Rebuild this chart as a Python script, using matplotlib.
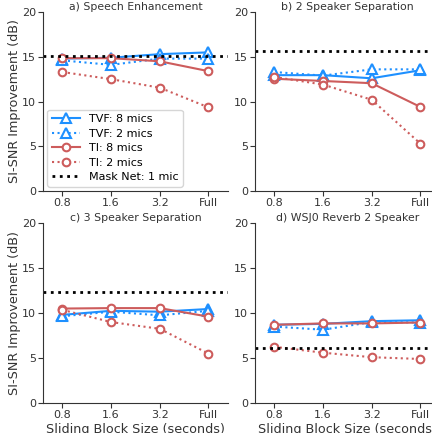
import matplotlib
matplotlib.use("Agg")
import matplotlib.pyplot as plt
import numpy as np

# block sizes on x axis
block_labels = ["0.8", "1.6", "3.2", "Full"]

titles = ["a) Speech Enhancement", "b) 2 Speaker Separation",
          "c) 3 Speaker Separation", "d) WSJ0 Reverb 2 Speaker"]

# SI-SNR improvement (dB), one list per panel
tvf_8 = [[14.8, 14.9, 15.3, 15.5],
         [12.95, 12.95, 12.6, 13.5],
         [9.8, 10.25, 10.15, 10.45],
         [8.7, 8.8, 9.1, 9.2]]
tvf_2 = [[14.6, 14.1, 14.8, 14.8],
         [13.3, 12.9, 13.6, 13.6],
         [9.65, 10.15, 9.75, 10.25],
         [8.5, 8.15, 9.0, 8.95]]
ti_8 = [[14.85, 14.85, 14.5, 13.4],
        [12.55, 12.3, 12.05, 9.4],
        [10.5, 10.55, 10.55, 9.6],
        [8.7, 8.85, 8.85, 8.95]]
ti_2 = [[13.3, 12.5, 11.55, 9.35],
        [12.75, 11.9, 10.2, 5.3],
        [10.35, 9.0, 8.25, 5.5],
        [6.25, 5.6, 5.1, 4.9]]
mask_net = [15.1, 15.6, 12.35, 6.1]

blue = "#1e90ff"
red = "#cd5c5c"
grey = "#333333"

fig = plt.figure(figsize=(4.32, 4.33), dpi=100)
# axes boxes in figure fractions (right column runs past the edge like the original)
boxes = [[0.0995, 0.559, 0.428, 0.413],
         [0.590, 0.559, 0.428, 0.413],
         [0.0995, 0.069, 0.428, 0.416],
         [0.590, 0.069, 0.428, 0.416]]

x = np.arange(len(block_labels))
for i in range(4):
    ax = fig.add_axes(boxes[i])
    ax.plot(x, tvf_8[i], "-", color=blue, marker="^", mfc="white", mec=blue,
            ms=6.5, mew=1.5, lw=1.5, label="TVF: 8 mics")
    ax.plot(x, tvf_2[i], ":", color=blue, marker="^", mfc="white", mec=blue,
            ms=6.5, mew=1.5, lw=1.5, label="TVF: 2 mics")
    ax.plot(x, ti_8[i], "-", color=red, marker="o", mfc="white", mec=red,
            ms=5.5, mew=1.5, lw=1.5, label="TI: 8 mics")
    ax.plot(x, ti_2[i], ":", color=red, marker="o", mfc="white", mec=red,
            ms=5.5, mew=1.5, lw=1.5, label="TI: 2 mics")
    ax.axhline(mask_net[i], color="black", ls=":", lw=2, label="Mask Net: 1 mic")
    ax.set_xlim(-0.4, 3.4)
    ax.set_ylim(0, 20)
    ax.set_yticks([0, 5, 10, 15, 20])
    ax.set_xticks(x)
    ax.set_xticklabels(block_labels)
    ax.tick_params(labelsize=8, length=3.5, pad=1.5, colors=grey)
    ax.spines["top"].set_visible(False)
    ax.spines["right"].set_visible(False)
    ax.spines["left"].set_color(grey)
    ax.spines["bottom"].set_color(grey)
    ax.set_title(titles[i], fontsize=7.8, color=grey, pad=-3)
    if i % 2 == 0:
        ax.set_ylabel("SI-SNR Improvement (dB)", fontsize=9.2, color=grey,
                      labelpad=1)
    if i >= 2:
        ax.set_xlabel("Sliding Block Size (seconds)", fontsize=9.2, color=grey,
                      labelpad=2)
    if i == 0:
        ax.legend(loc="lower left", fontsize=8, handlelength=2.5,
                  borderaxespad=0.4, labelspacing=0.4)

fig.savefig("out.png", dpi=100)
